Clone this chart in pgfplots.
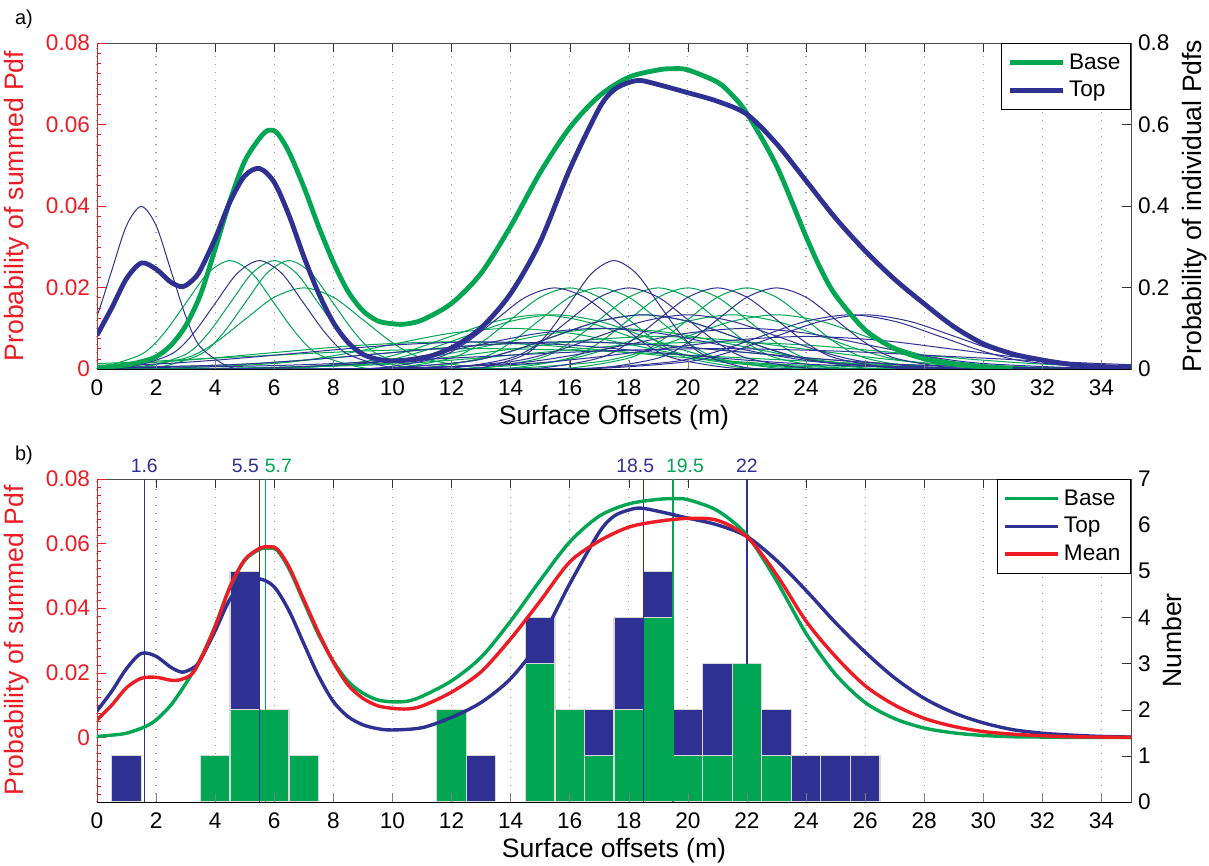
\documentclass[border=0pt]{standalone}
\usepackage{fontspec}
\setmainfont{Liberation Sans}
\usepackage{pgfplots}
\pgfplotsset{compat=1.18}
\definecolor{basegreen}{RGB}{0,166,81}
\definecolor{topblue}{RGB}{46,49,146}
\definecolor{meanred}{RGB}{237,28,36}
\definecolor{axred}{RGB}{237,28,36}
\pgfplotsset{
  common/.style={
    scale only axis, width=517pt, xmin=0, xmax=35,
    xtick={0,2,...,34},
    tick align=inside, scaled y ticks=false, scaled x ticks=false,
    major tick length=4.5pt, minor tick length=2pt,
    ticklabel style={font=\fontsize{11.3}{13}\selectfont},
    xticklabel style={yshift=-2pt},
    /pgf/number format/assume math mode=true,
    label style={font=\fontsize{13.3}{16}\selectfont},
  },
  rightax/.style={common, axis line style={black!70},
    ytick pos=right, yticklabel pos=right, xtick pos=both, xticklabels={},
    xmajorgrids, grid style={gray!80, line width=0.6pt, dash pattern=on 0.6pt off 3.4pt},
    tick style={black!80}},
  leftax/.style={common, axis y line*=left, axis x line*=bottom, axis line style={-},
    y axis line style={axred}, ytick style={draw=axred},
    every minor tick/.append style={draw=axred},
    yticklabel style={text=axred}, minor y tick num=7,
    ylabel style={text=axred, at={(axis description cs:-0.059,0.5)}, anchor=south},
    xlabel style={at={(axis description cs:0.5,0)}, anchor=center, yshift=-24.5pt},
    legend style={at={(1,1)}, anchor=north east, draw=black, line width=0.5pt,
      font=\fontsize{11.3}{13.5}\selectfont, inner xsep=3pt, inner ysep=3pt, row sep=0.5pt},
    legend cell align=left,
    legend image code/.code={\draw[##1] (0pt,0pt) -- (26.5pt,0pt);}},
  thin/.style={line width=0.5pt, smooth},
}
\begin{document}
\begin{tikzpicture}
\path[use as bounding box] (0,0) rectangle (604.5pt,433pt);
\node[font=\fontsize{10}{12}\selectfont] at (12pt,423.5pt) {a)};
\node[font=\fontsize{10}{12}\selectfont] at (12pt,205.5pt) {b)};

% ---------------- panel a: individual pdfs (right axis)
\begin{axis}[rightax, at={(48.5pt,248.5pt)}, anchor=south west, height=163pt,
  ymin=0, ymax=0.8, ytick={0,0.2,0.4,0.6,0.8}, yticklabels={0,0.2,0.4,0.6,0.8},
  ylabel={Probability of individual Pdfs},
  ylabel style={at={(axis description cs:1.0426,0.5)}, anchor=north}]
\addplot[thin, basegreen] coordinates {(-1.5,0)(0,0.003)(1.5,0.036)(2.25,0.0864)(3,0.161)(3.75,0.235)(4.5,0.266)(5.25,0.235)(6,0.161)(6.75,0.0864)(7.5,0.036)(9,0.003)(10.5,0)};
\addplot[thin, basegreen] coordinates {(0,0)(1.5,0.003)(3,0.036)(3.75,0.0864)(4.5,0.161)(5.25,0.235)(6,0.266)(6.75,0.235)(7.5,0.161)(8.25,0.0864)(9,0.036)(10.5,0.003)(12,0)};
\addplot[thin, basegreen] coordinates {(0.5,0)(2,0.003)(3.5,0.036)(4.25,0.0864)(5,0.161)(5.75,0.235)(6.5,0.266)(7.25,0.235)(8,0.161)(8.75,0.0864)(9.5,0.036)(11,0.003)(12.5,0)};
\addplot[thin, basegreen] coordinates {(-1,0)(1,0.0022)(3,0.0269)(4,0.0646)(5,0.121)(6,0.176)(7,0.199)(8,0.176)(9,0.121)(10,0.0646)(11,0.0269)(13,0.0022)(15,0)};
\addplot[thin, basegreen] coordinates {(-12,0)(-6,0.0007)(0,0.009)(3,0.0216)(6,0.0403)(9,0.0587)(12,0.0665)(15,0.0587)(18,0.0403)(21,0.0216)(24,0.009)(30,0.0007)(36,0)};
\addplot[thin, basegreen] coordinates {(-19,0)(-11,0.0006)(-3,0.0068)(1,0.0162)(5,0.0303)(9,0.044)(13,0.0499)(17,0.044)(21,0.0303)(25,0.0162)(29,0.0068)(37,0.0006)(45,0)};
\addplot[thin, basegreen] coordinates {(3,0)(6,0.0015)(9,0.018)(10.5,0.0432)(12,0.0807)(13.5,0.117)(15,0.133)(16.5,0.117)(18,0.0807)(19.5,0.0432)(21,0.018)(24,0.0015)(27,0)};
\addplot[thin, basegreen] coordinates {(3.5,0)(6.5,0.0015)(9.5,0.018)(11,0.0432)(12.5,0.0807)(14,0.117)(15.5,0.133)(17,0.117)(18.5,0.0807)(20,0.0432)(21.5,0.018)(24.5,0.0015)(27.5,0)};
\addplot[thin, basegreen] coordinates {(8,0)(10,0.0022)(12,0.0269)(13,0.0646)(14,0.121)(15,0.176)(16,0.199)(17,0.176)(18,0.121)(19,0.0646)(20,0.0269)(22,0.0022)(24,0)};
\addplot[thin, basegreen] coordinates {(9,0)(11,0.0022)(13,0.0269)(14,0.0646)(15,0.121)(16,0.176)(17,0.199)(18,0.176)(19,0.121)(20,0.0646)(21,0.0269)(23,0.0022)(25,0)};
\addplot[thin, basegreen] coordinates {(11,0)(13,0.0022)(15,0.0269)(16,0.0646)(17,0.121)(18,0.176)(19,0.199)(20,0.176)(21,0.121)(22,0.0646)(23,0.0269)(25,0.0022)(27,0)};
\addplot[thin, basegreen] coordinates {(12,0)(14,0.0022)(16,0.0269)(17,0.0646)(18,0.121)(19,0.176)(20,0.199)(21,0.176)(22,0.121)(23,0.0646)(24,0.0269)(26,0.0022)(28,0)};
\addplot[thin, basegreen] coordinates {(14,0)(16,0.0022)(18,0.0269)(19,0.0646)(20,0.121)(21,0.176)(22,0.199)(23,0.176)(24,0.121)(25,0.0646)(26,0.0269)(28,0.0022)(30,0)};
\addplot[thin, basegreen] coordinates {(1.5,0)(5.5,0.0011)(9.5,0.0135)(11.5,0.0324)(13.5,0.0605)(15.5,0.088)(17.5,0.0997)(19.5,0.088)(21.5,0.0605)(23.5,0.0324)(25.5,0.0135)(29.5,0.0011)(33.5,0)};
\addplot[thin, basegreen] coordinates {(6.5,0)(9.5,0.0015)(12.5,0.018)(14,0.0432)(15.5,0.0807)(17,0.117)(18.5,0.133)(20,0.117)(21.5,0.0807)(23,0.0432)(24.5,0.018)(27.5,0.0015)(30.5,0)};
\addplot[thin, basegreen] coordinates {(9.5,0)(12.5,0.0015)(15.5,0.018)(17,0.0432)(18.5,0.0807)(20,0.117)(21.5,0.133)(23,0.117)(24.5,0.0807)(26,0.0432)(27.5,0.018)(30.5,0.0015)(33.5,0)};
\addplot[thin, basegreen] coordinates {(-1,0)(4,0.0009)(9,0.0108)(11.5,0.0259)(14,0.0484)(16.5,0.0704)(19,0.0798)(21.5,0.0704)(24,0.0484)(26.5,0.0259)(29,0.0108)(34,0.0009)(39,0)};
\addplot[thin, basegreen] coordinates {(-8,0)(-2,0.0007)(4,0.009)(7,0.0216)(10,0.0403)(13,0.0587)(16,0.0665)(19,0.0587)(22,0.0403)(25,0.0216)(28,0.009)(34,0.0007)(40,0)};
\addplot[thin, basegreen] coordinates {(-3,0)(3,0.0007)(9,0.009)(12,0.0216)(15,0.0403)(18,0.0587)(21,0.0665)(24,0.0587)(27,0.0403)(30,0.0216)(33,0.009)(39,0.0007)(45,0)};
\addplot[thin, basegreen] coordinates {(-2,0)(2,0.0011)(6,0.0135)(8,0.0324)(10,0.0605)(12,0.088)(14,0.0997)(16,0.088)(18,0.0605)(20,0.0324)(22,0.0135)(26,0.0011)(30,0)};
\addplot[thin, basegreen] coordinates {(11,0)(14,0.0015)(17,0.018)(18.5,0.0432)(20,0.0807)(21.5,0.117)(23,0.133)(24.5,0.117)(26,0.0807)(27.5,0.0432)(29,0.018)(32,0.0015)(35,0)};
% blue individual pdfs
\addplot[thin, topblue] coordinates {(-2.5,0)(-1.5,0.0044)(-0.5,0.054)(0,0.130)(0.5,0.242)(1,0.352)(1.5,0.399)(2,0.352)(2.5,0.242)(3,0.130)(3.5,0.054)(4.5,0.0044)(5.5,0)};
\addplot[thin, topblue] coordinates {(-0.5,0)(1,0.003)(2.5,0.036)(3.25,0.0864)(4,0.161)(4.75,0.235)(5.5,0.266)(6.25,0.235)(7,0.161)(7.75,0.0864)(8.5,0.036)(10,0.003)(11.5,0)};
\addplot[thin, topblue] coordinates {(-11,0)(-5,0.0007)(1,0.009)(4,0.0216)(7,0.0403)(10,0.0587)(13,0.0665)(16,0.0587)(19,0.0403)(22,0.0216)(25,0.009)(31,0.0007)(37,0)};
\addplot[thin, topblue] coordinates {(7.5,0)(9.5,0.0022)(11.5,0.0269)(12.5,0.0646)(13.5,0.121)(14.5,0.176)(15.5,0.199)(16.5,0.176)(17.5,0.121)(18.5,0.0646)(19.5,0.0269)(21.5,0.0022)(23.5,0)};
\addplot[thin, topblue] coordinates {(11.5,0)(13,0.003)(14.5,0.036)(15.25,0.0864)(16,0.161)(16.75,0.235)(17.5,0.266)(18.25,0.235)(19,0.161)(19.75,0.0864)(20.5,0.036)(22,0.003)(23.5,0)};
\addplot[thin, topblue] coordinates {(10,0)(12,0.0022)(14,0.0269)(15,0.0646)(16,0.121)(17,0.176)(18,0.199)(19,0.176)(20,0.121)(21,0.0646)(22,0.0269)(24,0.0022)(26,0)};
\addplot[thin, topblue] coordinates {(13,0)(15,0.0022)(17,0.0269)(18,0.0646)(19,0.121)(20,0.176)(21,0.199)(22,0.176)(23,0.121)(24,0.0646)(25,0.0269)(27,0.0022)(29,0)};
\addplot[thin, topblue] coordinates {(15,0)(17,0.0022)(19,0.0269)(20,0.0646)(21,0.121)(22,0.176)(23,0.199)(24,0.176)(25,0.121)(26,0.0646)(27,0.0269)(29,0.0022)(31,0)};
\addplot[thin, topblue] coordinates {(6.5,0)(9.5,0.0015)(12.5,0.018)(14,0.0432)(15.5,0.0807)(17,0.117)(18.5,0.133)(20,0.117)(21.5,0.0807)(23,0.0432)(24.5,0.018)(27.5,0.0015)(30.5,0)};
\addplot[thin, topblue] coordinates {(8,0)(11,0.0015)(14,0.018)(15.5,0.0432)(17,0.0807)(18.5,0.117)(20,0.133)(21.5,0.117)(23,0.0807)(24.5,0.0432)(26,0.018)(29,0.0015)(32,0)};
\addplot[thin, topblue] coordinates {(13.5,0)(16.5,0.0015)(19.5,0.018)(21,0.0432)(22.5,0.0807)(24,0.117)(25.5,0.133)(27,0.117)(28.5,0.0807)(30,0.0432)(31.5,0.018)(34.5,0.0015)(37.5,0)};
\addplot[thin, topblue] coordinates {(14,0)(17,0.0015)(20,0.018)(21.5,0.0432)(23,0.0807)(24.5,0.117)(26,0.133)(27.5,0.117)(29,0.0807)(30.5,0.0432)(32,0.018)(35,0.0015)(38,0)};
\addplot[thin, topblue] coordinates {(1,0)(5,0.0011)(9,0.0135)(11,0.0324)(13,0.0605)(15,0.088)(17,0.0997)(19,0.088)(21,0.0605)(23,0.0324)(25,0.0135)(29,0.0011)(33,0)};
\addplot[thin, topblue] coordinates {(6,0)(10,0.0011)(14,0.0135)(16,0.0324)(18,0.0605)(20,0.088)(22,0.0997)(24,0.088)(26,0.0605)(28,0.0324)(30,0.0135)(34,0.0011)(38,0)};
\addplot[thin, topblue] coordinates {(4,0)(9,0.0009)(14,0.0108)(16.5,0.0259)(19,0.0484)(21.5,0.0704)(24,0.0798)(26.5,0.0704)(29,0.0484)(31.5,0.0259)(34,0.0108)(39,0.0009)(44,0)};
\addplot[thin, topblue] coordinates {(-8,0)(-2,0.0007)(4,0.009)(7,0.0216)(10,0.0403)(13,0.0587)(16,0.0665)(19,0.0587)(22,0.0403)(25,0.0216)(28,0.009)(34,0.0007)(40,0)};
\addplot[thin, topblue] coordinates {(-11,0)(-3,0.0006)(5,0.0068)(9,0.0162)(13,0.0303)(17,0.044)(21,0.0499)(25,0.044)(29,0.0303)(33,0.0162)(37,0.0068)(45,0.0006)(53,0)};
\end{axis}

% ---------------- panel a: summed pdfs (left axis)
\begin{axis}[leftax, at={(48.5pt,248.5pt)}, anchor=south west, height=163pt,
  ymin=0, ymax=0.08, ytick={0,0.02,0.04,0.06,0.08}, yticklabels={0,0.02,0.04,0.06,0.08},
  ylabel={Probability of summed Pdf}, xlabel={Surface Offsets (m)},
  legend entries={Base,Top}]
\addplot[basegreen, line width=2.4pt, smooth] coordinates {(0,0.0003)(0.5,0.0006)(1,0.0010)(1.5,0.0018)(2,0.0030)(2.5,0.0058)(3,0.0106)(3.5,0.0182)(4,0.0295)(4.5,0.0413)(5,0.0510)(5.5,0.0566)(5.8,0.0586)(6.1,0.0579)(6.5,0.0532)(7,0.0447)(7.5,0.0350)(8,0.0262)(8.5,0.0190)(9,0.0143)(9.5,0.0118)(10,0.0111)(10.4,0.0110)(11,0.0120)(12,0.0161)(13,0.0235)(14,0.0350)(15,0.0482)(16,0.0592)(17,0.0670)(18,0.0716)(19,0.0734)(19.5,0.0737)(20,0.0734)(21,0.0704)(21.5,0.0672)(22,0.0627)(23,0.0499)(24,0.0325)(24.5,0.0245)(25,0.0181)(26,0.0096)(27,0.0050)(28,0.0025)(29,0.0012)(30,0.0005)(31,0.0002)};
\addplot[topblue, line width=2.4pt, smooth] coordinates {(0,0.0083)(0.5,0.0150)(1,0.0222)(1.5,0.0260)(2,0.0245)(2.5,0.0213)(2.9,0.0202)(3.25,0.0219)(3.5,0.0243)(4,0.0320)(4.5,0.0410)(5,0.0474)(5.5,0.0492)(6,0.0458)(6.5,0.0377)(7,0.0276)(7.5,0.0186)(8,0.0114)(8.5,0.0065)(9,0.0036)(9.5,0.0024)(10,0.0020)(11,0.0026)(12,0.0052)(13,0.0101)(14,0.0185)(15,0.0312)(16,0.0490)(17,0.0640)(17.5,0.0685)(18,0.0703)(18.4,0.0708)(19,0.0698)(20,0.0678)(21,0.0657)(22,0.0625)(23,0.0553)(24,0.0462)(25,0.0370)(26,0.0290)(27,0.0220)(28,0.0160)(29,0.0104)(30,0.0062)(31,0.0037)(32,0.0022)(33,0.0011)(34,0.0005)(35,0.0002)};
\end{axis}

% ---------------- panel b: histogram (right axis)
\begin{axis}[rightax, at={(48.5pt,32pt)}, anchor=south west, height=161.5pt,
  ymin=0, ymax=7, ytick={0,1,2,3,4,5,6,7}, clip=false,
  ylabel={Number},
  ylabel style={at={(axis description cs:1.0232,0.5)}, anchor=north}]
\addplot[ybar, bar width=1, bar shift=0pt, fill=topblue, draw=white!85!black, line width=0.6pt] coordinates {(1,1)(5,5)(13,1)(15,4)(17,2)(18,4)(19,5)(20,2)(21,3)(23,2)(24,1)(25,1)(26,1)};
\addplot[ybar, bar width=1, bar shift=0pt, fill=basegreen, draw=white!85!black, line width=0.6pt] coordinates {(4,1)(5,2)(6,2)(7,1)(12,2)(15,3)(16,2)(17,1)(18,2)(19,4)(20,1)(21,1)(22,3)(23,1)};
\addplot[topblue, line width=0.6pt] coordinates {(1.6,0)(1.6,7)};
\addplot[topblue, line width=0.6pt] coordinates {(5.5,0)(5.5,7)};
\addplot[basegreen, line width=0.6pt] coordinates {(5.7,0)(5.7,7)};
\addplot[topblue, line width=0.6pt] coordinates {(18.5,0)(18.5,7)};
\addplot[basegreen, line width=0.6pt] coordinates {(19.5,0)(19.5,7)};
\addplot[topblue, line width=0.6pt] coordinates {(22,3)(22,7)};
\node[text=topblue, anchor=south, inner sep=0pt, yshift=3pt, font=\fontsize{9.7}{11}\selectfont] at (axis cs:1.6,7) {1.6};
\node[text=topblue, anchor=south, inner sep=0pt, yshift=3pt, font=\fontsize{9.7}{11}\selectfont] at (axis cs:5.02,7) {5.5};
\node[text=basegreen, anchor=south, inner sep=0pt, yshift=3pt, font=\fontsize{9.7}{11}\selectfont] at (axis cs:6.14,7) {5.7};
\node[text=topblue, anchor=south, inner sep=0pt, yshift=3pt, font=\fontsize{9.7}{11}\selectfont] at (axis cs:18.22,7) {18.5};
\node[text=basegreen, anchor=south, inner sep=0pt, yshift=3pt, font=\fontsize{9.7}{11}\selectfont] at (axis cs:19.9,7) {19.5};
\node[text=topblue, anchor=south, inner sep=0pt, yshift=3pt, font=\fontsize{9.7}{11}\selectfont] at (axis cs:22,7) {22};
\end{axis}

% ---------------- panel b: curves (left axis)
\begin{axis}[leftax, at={(48.5pt,32pt)}, anchor=south west, height=161.5pt,
  ymin=-0.02, ymax=0.08, ytick={-0.02,0,0.02,0.04,0.06,0.08}, yticklabels={,0,0.02,0.04,0.06,0.08},
  ylabel={Probability of summed Pdf}, xlabel={Surface offsets (m)},
  legend entries={Base,Top,Mean}]
\addplot[basegreen, line width=1.7pt, smooth] coordinates {(0,0.0003)(0.5,0.0007)(1,0.0013)(1.6,0.0032)(2,0.0054)(2.5,0.0100)(3,0.0166)(3.5,0.0243)(4,0.0345)(4.5,0.0465)(5,0.0548)(5.5,0.0582)(5.8,0.0586)(6.1,0.0579)(6.5,0.0522)(7,0.0420)(7.5,0.0318)(8,0.0235)(8.5,0.0173)(9,0.0137)(9.5,0.0116)(10,0.0110)(10.5,0.0112)(11,0.0127)(12,0.0175)(13,0.0248)(14,0.0360)(15,0.0486)(16,0.0605)(17,0.0685)(18,0.0723)(19,0.0737)(19.5,0.0739)(20,0.0736)(21,0.0702)(22,0.0626)(23,0.0485)(24,0.0322)(25,0.0195)(26,0.0108)(27,0.0058)(28,0.0029)(29,0.0014)(30,0.0006)(31,0.0002)(32,0.0001)(33,0)(35,0)};
\addplot[topblue, line width=1.7pt, smooth] coordinates {(0,0.0082)(0.5,0.0143)(1,0.0213)(1.5,0.0260)(2,0.0251)(2.5,0.0217)(2.9,0.0202)(3.3,0.0218)(3.5,0.0240)(4,0.0330)(4.5,0.0428)(5,0.0480)(5.5,0.0491)(6,0.0466)(6.5,0.0392)(7,0.0290)(7.5,0.0190)(8,0.0111)(8.5,0.0064)(9,0.0039)(9.5,0.0027)(10,0.0023)(11,0.0030)(12,0.0062)(13,0.0108)(14,0.0182)(15,0.0300)(16,0.0475)(17,0.0635)(17.5,0.0685)(18,0.0704)(18.4,0.0710)(19,0.0700)(20,0.0679)(21,0.0658)(22,0.0622)(23,0.0548)(24,0.0455)(25,0.0355)(26,0.0264)(27,0.0184)(28,0.0121)(29,0.0076)(30,0.0045)(31,0.0024)(32,0.0013)(33,0.0007)(34,0.0003)(35,0.0001)};
\addplot[meanred, line width=1.7pt, smooth] coordinates {(0,0.0054)(0.5,0.0100)(1,0.0154)(1.5,0.0183)(2,0.0186)(2.5,0.0177)(2.8,0.0178)(3.2,0.0195)(3.5,0.0240)(4,0.0343)(4.5,0.0466)(5,0.0550)(5.5,0.0585)(5.8,0.0590)(6.1,0.0583)(6.5,0.0528)(7,0.0426)(7.5,0.0324)(8,0.0233)(8.5,0.0162)(9,0.0121)(9.5,0.0098)(10,0.0090)(10.5,0.0088)(11,0.0097)(12,0.0140)(13,0.0203)(14,0.0305)(15,0.0422)(16,0.0543)(17,0.0608)(18,0.0651)(19,0.0669)(20,0.0678)(21,0.0672)(22,0.0621)(23,0.0504)(24,0.0360)(25,0.0250)(26,0.0160)(27,0.0100)(28,0.0059)(29,0.0034)(30,0.0018)(31,0.0010)(32,0.0005)(33,0.0002)(34,0.0001)(35,0)};
\end{axis}
\end{tikzpicture}
\end{document}
